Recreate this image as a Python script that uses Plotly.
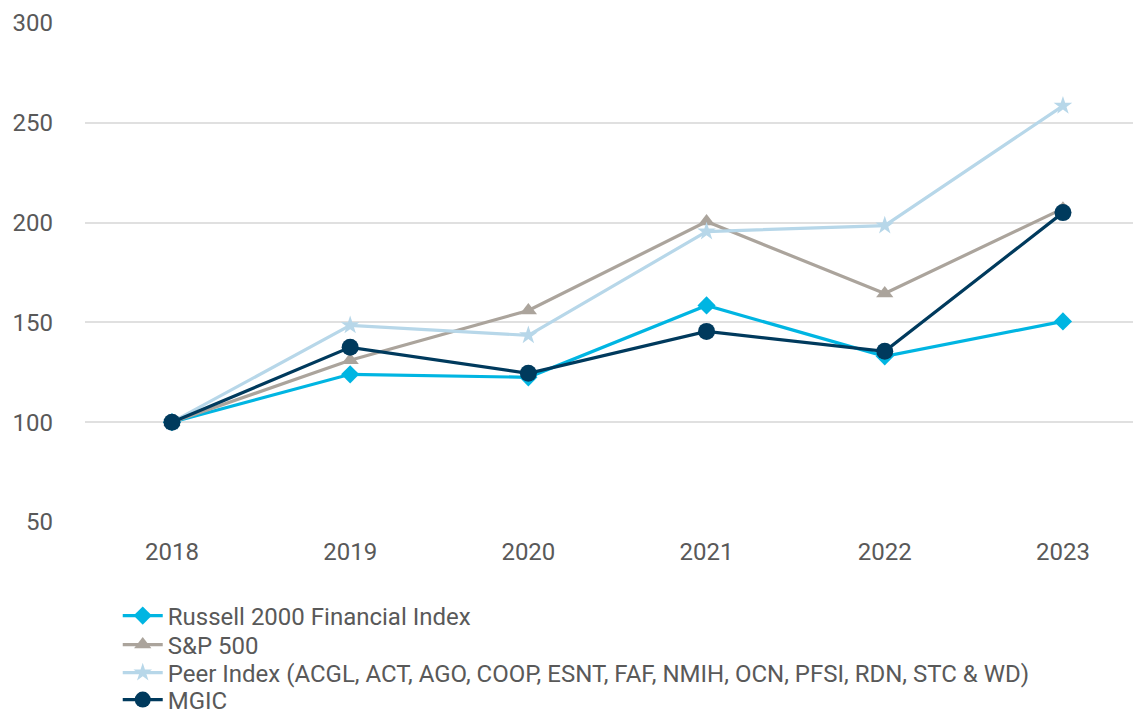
import plotly.graph_objects as go

years = ["2018", "2019", "2020", "2021", "2022", "2023"]
russell = [100, 124, 122.5, 158.5, 133, 150.5]
sp500 = [100, 131, 156, 200.5, 164.5, 207]
peer = [100, 148.5, 143.5, 195.5, 198.5, 258.5]
mgic = [100, 137.5, 124.5, 145.5, 135.5, 205]

y_ticks = [50, 100, 150, 200, 250, 300]

names = [
    "Russell 2000 Financial Index",
    "S&P 500",
    "Peer Index (ACGL, ACT, AGO, COOP, ESNT, FAF, NMIH, OCN, PFSI, RDN, STC & WD)",
    "MGIC",
]

x_idx = list(range(len(years)))

fig = go.Figure()
specs = [
    (russell, names[0], "#00b5e2", "diamond", 14, "legend"),
    (sp500, names[1], "#aba49c", "triangle-up", 15, "legend2"),
    (peer, names[2], "#b7d7e9", "star", 14, "legend3"),
    (mgic, names[3], "#003a5d", "circle", 17, "legend4"),
]
for vals, nm, col, sym, sz, lg in specs:
    fig.add_trace(go.Scatter(
        x=x_idx, y=vals, name=nm, mode="lines+markers",
        line=dict(color=col, width=3.2),
        marker=dict(symbol=sym, size=sz, color=col),
        legend=lg,
    ))

H = 703
leg_common = dict(
    orientation="v", x=0.031, xanchor="left", yanchor="middle",
    yref="container",
    font=dict(size=24, color="#595959"), itemwidth=40,
    bgcolor="rgba(0,0,0,0)",
)

fig.update_layout(
    width=1133, height=H,
    paper_bgcolor="white", plot_bgcolor="white",
    margin=dict(l=77, r=0, t=15, b=189),
    font=dict(family="Roboto", size=24, color="#595959"),
    xaxis=dict(
        tickmode="array", tickvals=x_idx, ticktext=years,
        range=[-0.488, 5.438], showgrid=False, zeroline=False,
        showline=False, ticks="", ticklabelstandoff=13, automargin=False,
        tickfont=dict(size=24, color="#595959"),
    ),
    yaxis=dict(
        range=[50, 300], tickvals=y_ticks, showgrid=True,
        gridcolor="#e0e0e0", gridwidth=1.5, zeroline=False,
        showline=False, ticks="", ticklabelstandoff=31, automargin=False,
        tickfont=dict(size=24, color="#595959"),
    ),
    legend=dict(y=1 - 608 / H, **leg_common),
    legend2=dict(y=1 - 637 / H, **leg_common),
    legend3=dict(y=1 - 665 / H, **leg_common),
    legend4=dict(y=1 - 692 / H, **leg_common),
    showlegend=True,
)

fig.write_html("out.html")
